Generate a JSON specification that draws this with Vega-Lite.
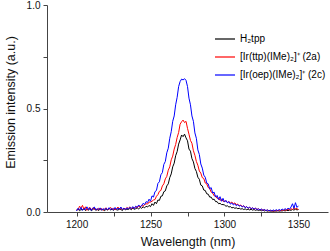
{
"$schema": "https://vega.github.io/schema/vega-lite/v6.json",
"width": 281, "height": 207,
"autosize": "none",
"padding": {"left": 47, "top": 5, "right": 2, "bottom": 39},
"background": "white",
"config": {"view": {"stroke": null}, "font": "Liberation Sans",
  "axis": {"grid": false, "domainColor": "#444", "tickColor": "#444", "labelColor": "#111", "titleColor": "#111", "labelFont": "Liberation Sans", "titleFont": "Liberation Sans", "labelFontSize": 10, "titleFontSize": 12.5, "titleFontWeight": "normal", "tickSize": 4, "labelPadding": 3}},
"data": {"values": [
{"w":1200,"k":0.008,"r":0.012,"b":0.005},{"w":1201,"k":0.015,"r":0.010,"b":0.018},{"w":1202,"k":0.006,"r":0.028,"b":0.010},{"w":1203,"k":0.012,"r":0.020,"b":0.022},{"w":1204,"k":0.010,"r":0.032,"b":0.008},{"w":1205,"k":0.018,"r":0.012,"b":0.016},{"w":1206,"k":0.007,"r":0.025,"b":0.012},{"w":1207,"k":0.014,"r":0.008,"b":0.025},{"w":1208,"k":0.009,"r":0.018,"b":0.010},{"w":1209,"k":0.016,"r":0.022,"b":0.020},
{"w":1210,"k":0.006,"r":0.010,"b":0.008},{"w":1211,"k":0.012,"r":0.020,"b":0.018},{"w":1212,"k":0.018,"r":0.012,"b":0.024},{"w":1213,"k":0.008,"r":0.016,"b":0.010},{"w":1214,"k":0.013,"r":0.009,"b":0.016},{"w":1215,"k":0.007,"r":0.018,"b":0.012},{"w":1216,"k":0.015,"r":0.011,"b":0.020},{"w":1217,"k":0.010,"r":0.017,"b":0.009},{"w":1218,"k":0.012,"r":0.008,"b":0.016},{"w":1219,"k":0.006,"r":0.015,"b":0.012},
{"w":1220,"k":0.014,"r":0.020,"b":0.018},{"w":1221,"k":0.009,"r":0.010,"b":0.010},{"w":1222,"k":0.017,"r":0.014,"b":0.021},{"w":1223,"k":0.010,"r":0.022,"b":0.012},{"w":1224,"k":0.013,"r":0.012,"b":0.017},{"w":1225,"k":0.008,"r":0.018,"b":0.010},{"w":1226,"k":0.016,"r":0.010,"b":0.022},{"w":1227,"k":0.011,"r":0.016,"b":0.012},{"w":1228,"k":0.009,"r":0.024,"b":0.018},{"w":1229,"k":0.015,"r":0.013,"b":0.014},
{"w":1230,"k":0.012,"r":0.020,"b":0.024},{"w":1231,"k":0.007,"r":0.010,"b":0.012},{"w":1232,"k":0.018,"r":0.018,"b":0.019},{"w":1233,"k":0.010,"r":0.014,"b":0.011},{"w":1234,"k":0.014,"r":0.022,"b":0.020},{"w":1235,"k":0.012,"r":0.016,"b":0.015},{"w":1236,"k":0.017,"r":0.025,"b":0.022},{"w":1237,"k":0.011,"r":0.015,"b":0.017},{"w":1238,"k":0.019,"r":0.022,"b":0.026},{"w":1239,"k":0.013,"r":0.018,"b":0.016},
{"w":1240,"k":0.016,"r":0.026,"b":0.028},{"w":1241,"k":0.020,"r":0.020,"b":0.022},{"w":1242,"k":0.015,"r":0.030,"b":0.034},{"w":1243,"k":0.022,"r":0.024,"b":0.026},{"w":1244,"k":0.018,"r":0.032,"b":0.030},{"w":1245,"k":0.025,"r":0.028,"b":0.042},{"w":1246,"k":0.020,"r":0.036,"b":0.036},{"w":1247,"k":0.028,"r":0.040,"b":0.050},{"w":1248,"k":0.024,"r":0.038,"b":0.046},{"w":1249,"k":0.032,"r":0.048,"b":0.062},
{"w":1250,"k":0.026,"r":0.048,"b":0.052},{"w":1251,"k":0.040,"r":0.052,"b":0.078},{"w":1252,"k":0.032,"r":0.058,"b":0.072},{"w":1253,"k":0.048,"r":0.060,"b":0.098},{"w":1254,"k":0.040,"r":0.076,"b":0.104},{"w":1255,"k":0.058,"r":0.084,"b":0.138},{"w":1256,"k":0.056,"r":0.100,"b":0.146},{"w":1257,"k":0.076,"r":0.104,"b":0.180},{"w":1258,"k":0.078,"r":0.126,"b":0.190},{"w":1259,"k":0.098,"r":0.136,"b":0.230},
{"w":1260,"k":0.102,"r":0.160,"b":0.244},{"w":1261,"k":0.126,"r":0.172,"b":0.286},{"w":1262,"k":0.136,"r":0.202,"b":0.308},{"w":1263,"k":0.166,"r":0.218,"b":0.356},{"w":1264,"k":0.184,"r":0.252,"b":0.388},{"w":1265,"k":0.218,"r":0.270,"b":0.438},{"w":1266,"k":0.236,"r":0.304,"b":0.464},{"w":1267,"k":0.272,"r":0.326,"b":0.518},{"w":1268,"k":0.292,"r":0.360,"b":0.554},{"w":1269,"k":0.328,"r":0.384,"b":0.606},
{"w":1270,"k":0.348,"r":0.424,"b":0.630},{"w":1271,"k":0.372,"r":0.436,"b":0.642},{"w":1272,"k":0.364,"r":0.444,"b":0.638},{"w":1273,"k":0.376,"r":0.432,"b":0.644},{"w":1274,"k":0.358,"r":0.438,"b":0.636},{"w":1275,"k":0.344,"r":0.404,"b":0.606},{"w":1276,"k":0.304,"r":0.376,"b":0.550},{"w":1277,"k":0.294,"r":0.346,"b":0.518},{"w":1278,"k":0.258,"r":0.332,"b":0.464},{"w":1279,"k":0.242,"r":0.296,"b":0.438},
{"w":1280,"k":0.210,"r":0.274,"b":0.382},{"w":1281,"k":0.196,"r":0.244,"b":0.356},{"w":1282,"k":0.168,"r":0.226,"b":0.300},{"w":1283,"k":0.158,"r":0.198,"b":0.278},{"w":1284,"k":0.130,"r":0.188,"b":0.232},{"w":1285,"k":0.126,"r":0.166,"b":0.212},{"w":1286,"k":0.106,"r":0.162,"b":0.178},{"w":1287,"k":0.104,"r":0.140,"b":0.168},{"w":1288,"k":0.088,"r":0.136,"b":0.140},{"w":1289,"k":0.086,"r":0.118,"b":0.136},
{"w":1290,"k":0.072,"r":0.114,"b":0.112},{"w":1291,"k":0.072,"r":0.096,"b":0.118},{"w":1292,"k":0.060,"r":0.092,"b":0.092},{"w":1293,"k":0.062,"r":0.078,"b":0.096},{"w":1294,"k":0.050,"r":0.078,"b":0.072},{"w":1295,"k":0.050,"r":0.066,"b":0.080},{"w":1296,"k":0.040,"r":0.068,"b":0.060},{"w":1297,"k":0.042,"r":0.056,"b":0.074},{"w":1298,"k":0.036,"r":0.062,"b":0.052},{"w":1299,"k":0.036,"r":0.052,"b":0.066},
{"w":1300,"k":0.034,"r":0.052,"b":0.048},{"w":1301,"k":0.028,"r":0.054,"b":0.056},{"w":1302,"k":0.030,"r":0.046,"b":0.044},{"w":1303,"k":0.024,"r":0.050,"b":0.050},{"w":1304,"k":0.026,"r":0.044,"b":0.038},{"w":1305,"k":0.020,"r":0.048,"b":0.044},{"w":1306,"k":0.022,"r":0.040,"b":0.034},{"w":1307,"k":0.018,"r":0.044,"b":0.040},{"w":1308,"k":0.020,"r":0.036,"b":0.030},{"w":1309,"k":0.016,"r":0.038,"b":0.036},
{"w":1310,"k":0.018,"r":0.030,"b":0.028},{"w":1311,"k":0.014,"r":0.034,"b":0.032},{"w":1312,"k":0.016,"r":0.026,"b":0.024},{"w":1313,"k":0.012,"r":0.030,"b":0.030},{"w":1314,"k":0.015,"r":0.022,"b":0.020},{"w":1315,"k":0.011,"r":0.026,"b":0.026},{"w":1316,"k":0.014,"r":0.018,"b":0.018},{"w":1317,"k":0.010,"r":0.022,"b":0.024},{"w":1318,"k":0.013,"r":0.016,"b":0.016},{"w":1319,"k":0.009,"r":0.020,"b":0.020},
{"w":1320,"k":0.012,"r":0.014,"b":0.014},{"w":1321,"k":0.008,"r":0.018,"b":0.018},{"w":1322,"k":0.011,"r":0.012,"b":0.012},{"w":1323,"k":0.007,"r":0.016,"b":0.015},{"w":1324,"k":0.010,"r":0.010,"b":0.010},{"w":1325,"k":0.006,"r":0.013,"b":0.014},{"w":1326,"k":0.009,"r":0.008,"b":0.008},{"w":1327,"k":0.005,"r":0.012,"b":0.012},{"w":1328,"k":0.008,"r":0.006,"b":0.007},{"w":1329,"k":0.004,"r":0.010,"b":0.010},
{"w":1330,"k":0.007,"r":0.005,"b":0.006},{"w":1331,"k":0.004,"r":0.008,"b":0.009},{"w":1332,"k":0.006,"r":0.004,"b":0.005},{"w":1333,"k":0.003,"r":0.007,"b":0.010},{"w":1334,"k":0.006,"r":0.004,"b":0.006},{"w":1335,"k":0.004,"r":0.008,"b":0.011},{"w":1336,"k":0.007,"r":0.005,"b":0.007},{"w":1337,"k":0.004,"r":0.009,"b":0.012},{"w":1338,"k":0.006,"r":0.006,"b":0.008},{"w":1339,"k":0.005,"r":0.010,"b":0.014},
{"w":1340,"k":0.008,"r":0.007,"b":0.010},{"w":1341,"k":0.005,"r":0.012,"b":0.016},{"w":1342,"k":0.009,"r":0.008,"b":0.012},{"w":1343,"k":0.006,"r":0.014,"b":0.018},{"w":1344,"k":0.010,"r":0.010,"b":0.014},{"w":1345,"k":0.008,"r":0.016,"b":0.024},{"w":1346,"k":0.012,"r":0.012,"b":0.040},{"w":1347,"k":0.009,"r":0.020,"b":0.018},{"w":1348,"k":0.014,"r":0.014,"b":0.045},{"w":1349,"k":0.010,"r":0.018,"b":0.022},
{"w":1350,"k":0.012,"r":0.010,"b":0.030}
]},
"transform": [{"fold": ["k", "r", "b"], "as": ["s", "v"]}],
"mark": {"type": "line", "strokeWidth": 1, "clip": true},
"encoding": {
  "x": {"field": "w", "type": "quantitative", "scale": {"domain": [1180, 1370], "nice": false, "zero": false},
    "axis": {"title": "Wavelength (nm)", "values": [1200, 1225, 1250, 1275, 1300, 1325, 1350], "labelExpr": "datum.value % 50 == 0 ? datum.label : ''", "format": "d", "titlePadding": 6}},
  "y": {"field": "v", "type": "quantitative", "scale": {"domain": [0, 1], "nice": false},
    "axis": {"title": "Emission intensity (a.u.)", "values": [0, 0.25, 0.5, 0.75, 1], "labelExpr": "datum.value == 0.25 || datum.value == 0.75 ? '' : format(datum.value, '.1f')", "titlePadding": 9, "titleY": 97}},
  "color": {"field": "s", "type": "nominal",
    "scale": {"domain": ["k", "r", "b"], "range": ["#000000", "#ff0000", "#0000ff"]},
    "legend": {"title": null, "orient": "none", "direction": "vertical", "legendX": 167, "legendY": 23, "symbolType": "stroke", "symbolSize": 400, "symbolStrokeWidth": 1.2, "labelFontSize": 10, "labelFont": "Liberation Sans", "labelColor": "#000", "labelOffset": 4, "rowPadding": 2, "padding": 0, "labelLimit": 200,
      "labelExpr": "datum.value == 'k' ? 'H₂tpp' : datum.value == 'r' ? '[Ir(ttp)(IMe)₂]⁺ (2a)' : '[Ir(oep)(IMe)₂]⁺ (2c)'"}}
}
}
